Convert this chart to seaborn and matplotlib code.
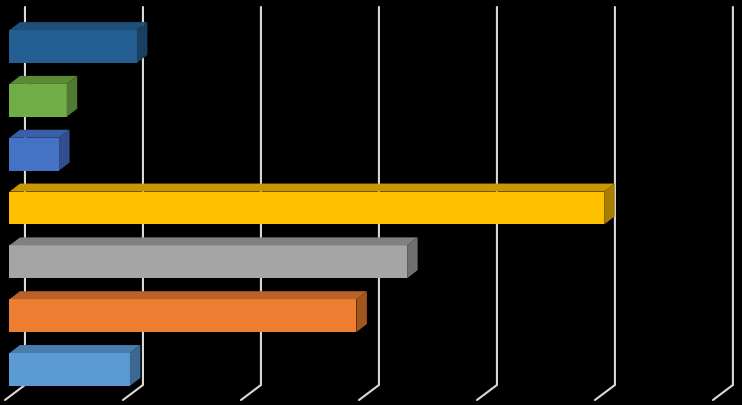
import numpy as np
import pandas as pd
import matplotlib
matplotlib.use("Agg")
import matplotlib.pyplot as plt
import seaborn as sns
from matplotlib.patches import Polygon

# ---------------------------------------------------------------
# DATA (axis 0..6)
# ---------------------------------------------------------------
categories = ["A", "B", "C", "D", "E", "F", "G"]
values = [1.08, 0.485, 0.42, 5.04, 3.37, 2.94, 1.02]
grid_ticks = [0, 1, 2, 3, 4, 5, 6]

front_colors = ["#255E91", "#70AD47", "#4472C4", "#FFC000", "#A5A5A5", "#ED7D31", "#5B9BD5"]
top_colors = ["#1F4E79", "#5A8A38", "#3A5FA8", "#C99700", "#808080", "#B8622A", "#4A7DAE"]
side_colors = ["#193F62", "#4E7A31", "#314F8E", "#A87F00", "#6E6E6E", "#A2561F", "#3D6890"]

BAR_H = 0.61
DX = 0.089      # depth offset along value axis
DY = 0.149      # depth offset along category axis
WALL = 0.131    # back wall offset
FLOOR = -0.038  # floor front offset

sns.set_style("dark")
plt.rcParams["font.family"] = ["DejaVu Sans"]

fig = plt.figure(figsize=(7.42, 4.05), dpi=100, facecolor="black")
ax = fig.add_axes([0, 0, 1, 1])
ax.set_facecolor("black")

df = pd.DataFrame({"cat": categories, "val": values})
sns.barplot(data=df, x="val", y="cat", hue="cat", palette=front_colors,
            saturation=1, width=BAR_H, legend=False, ax=ax, zorder=3,
            edgecolor="none")

# back wall gridlines + floor diagonals
for t in grid_ticks:
    ax.plot([t + WALL, t + WALL, t + FLOOR], [-0.734, 6.288, 6.567],
            color="#D9D9D9", lw=1.5, zorder=1, solid_joinstyle="miter")

# 3D faces for each bar
for i, v in enumerate(values):
    top = i - BAR_H / 2
    bot = i + BAR_H / 2
    top_face = Polygon([(0, top), (DX, top - DY), (v + DX, top - DY), (v, top)],
                       closed=True, facecolor=top_colors[i], edgecolor="none", zorder=4)
    side_face = Polygon([(v, top), (v + DX, top - DY), (v + DX, bot - DY), (v, bot)],
                        closed=True, facecolor=side_colors[i], edgecolor="none", zorder=4)
    ax.add_patch(top_face)
    ax.add_patch(side_face)

ax.set_xlim(-0.0805, 6.208)
ax.set_ylim(6.66, -0.864)
ax.set_axis_off()

plt.savefig("out.png", dpi=100, facecolor="black")
plt.close()
